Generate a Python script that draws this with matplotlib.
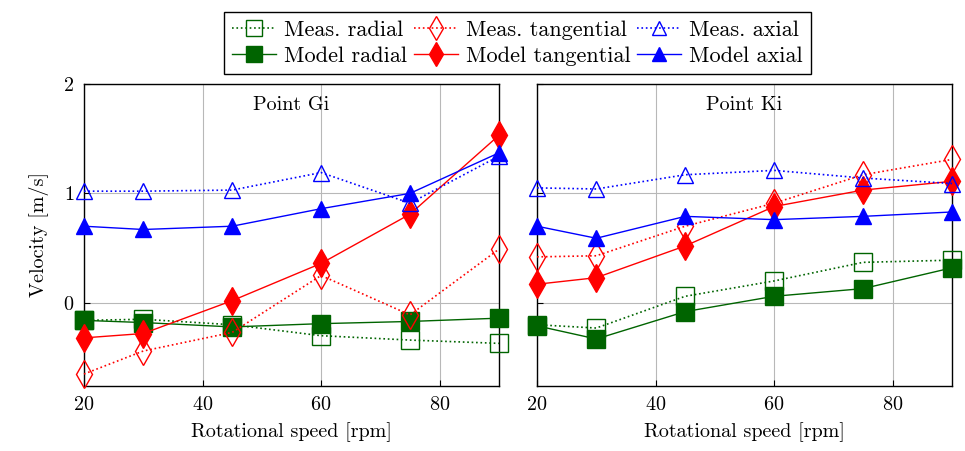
import matplotlib
matplotlib.use("Agg")
import matplotlib.pyplot as plt

plt.rcParams['font.family'] = ['cmr10', 'DejaVu Serif']
plt.rcParams['axes.formatter.use_mathtext'] = True
plt.rcParams['font.size'] = 14.5

rpm = [20, 30, 45, 60, 75, 90]

# Point Gi
gi_meas_rad = [-0.16, -0.15, -0.20, -0.30, -0.34, -0.37]
gi_mod_rad = [-0.16, -0.18, -0.22, -0.19, -0.17, -0.14]
gi_meas_tan = [-0.65, -0.44, -0.27, 0.25, -0.11, 0.49]
gi_mod_tan = [-0.32, -0.28, 0.02, 0.36, 0.81, 1.53]
gi_meas_ax = [1.02, 1.02, 1.03, 1.19, 0.91, 1.34]
gi_mod_ax = [0.70, 0.67, 0.70, 0.86, 1.00, 1.37]

# Point Ki
ki_meas_rad = [-0.20, -0.23, 0.06, 0.20, 0.37, 0.39]
ki_mod_rad = [-0.21, -0.33, -0.08, 0.06, 0.13, 0.32]
ki_meas_tan = [0.42, 0.43, 0.70, 0.91, 1.17, 1.31]
ki_mod_tan = [0.17, 0.23, 0.52, 0.88, 1.03, 1.11]
ki_meas_ax = [1.05, 1.04, 1.17, 1.21, 1.14, 1.09]
ki_mod_ax = [0.70, 0.59, 0.79, 0.76, 0.79, 0.83]

green = '#006400'

fig = plt.figure(figsize=(9.65, 4.51), dpi=100)
ax1 = fig.add_axes([0.087, 0.144, 0.430, 0.670])
ax2 = fig.add_axes([0.5565, 0.144, 0.430, 0.670])

def draw(ax, data, title):
    mr, mdr, mt, mdt, ma, mda = data
    hs = []
    hs += ax.plot(rpm, mr, ':', color=green, marker='s', ms=13.5, mfc='none', mew=1, lw=1.2, label='Meas. radial', clip_on=False)
    hs += ax.plot(rpm, mdr, '-', color=green, marker='s', ms=13.5, lw=1, label='Model radial', clip_on=False)
    hs += ax.plot(rpm, mt, ':', color='red', marker='d', ms=14, mfc='none', mew=1, lw=1.2, label='Meas. tangential', clip_on=False)
    hs += ax.plot(rpm, mdt, '-', color='red', marker='d', ms=14, lw=1, label='Model tangential', clip_on=False)
    hs += ax.plot(rpm, ma, ':', color='blue', marker='^', ms=12, mfc='none', mew=1, lw=1.2, label='Meas. axial', clip_on=False)
    hs += ax.plot(rpm, mda, '-', color='blue', marker='^', ms=12, lw=1, label='Model axial', clip_on=False)
    ax.set_xlim(20, 90)
    ax.set_ylim(-0.76, 2)
    ax.set_xticks([20, 40, 60, 80])
    ax.set_yticks([0, 1, 2])
    ax.grid(True, color='#b8b8b8', lw=0.8)
    ax.set_axisbelow(True)
    ax.tick_params(direction='in', length=4, pad=7)
    ax.set_xlabel('Rotational speed [rpm]', labelpad=6)
    ax.text(0.5, 0.96, title, transform=ax.transAxes, ha='center', va='top')
    for s in ax.spines.values():
        s.set_linewidth(1)
        s.set_zorder(1)
    return hs

hs = draw(ax1, [gi_meas_rad, gi_mod_rad, gi_meas_tan, gi_mod_tan, gi_meas_ax, gi_mod_ax], 'Point Gi')
draw(ax2, [ki_meas_rad, ki_mod_rad, ki_meas_tan, ki_mod_tan, ki_meas_ax, ki_mod_ax], 'Point Ki')
ax1.set_ylabel('Velocity [m/s]', labelpad=10)
ax2.set_yticklabels([])

fig.legend(hs, [h.get_label() for h in hs], loc='upper center', bbox_to_anchor=(0.536, 0.997), ncol=3,
           fontsize=16, fancybox=False, edgecolor='black', framealpha=1, handlelength=2.0,
           columnspacing=0.3, handletextpad=0.35, borderpad=0.35, labelspacing=0.3,
           markerscale=0.85)

fig.savefig('out.png', dpi=100)
